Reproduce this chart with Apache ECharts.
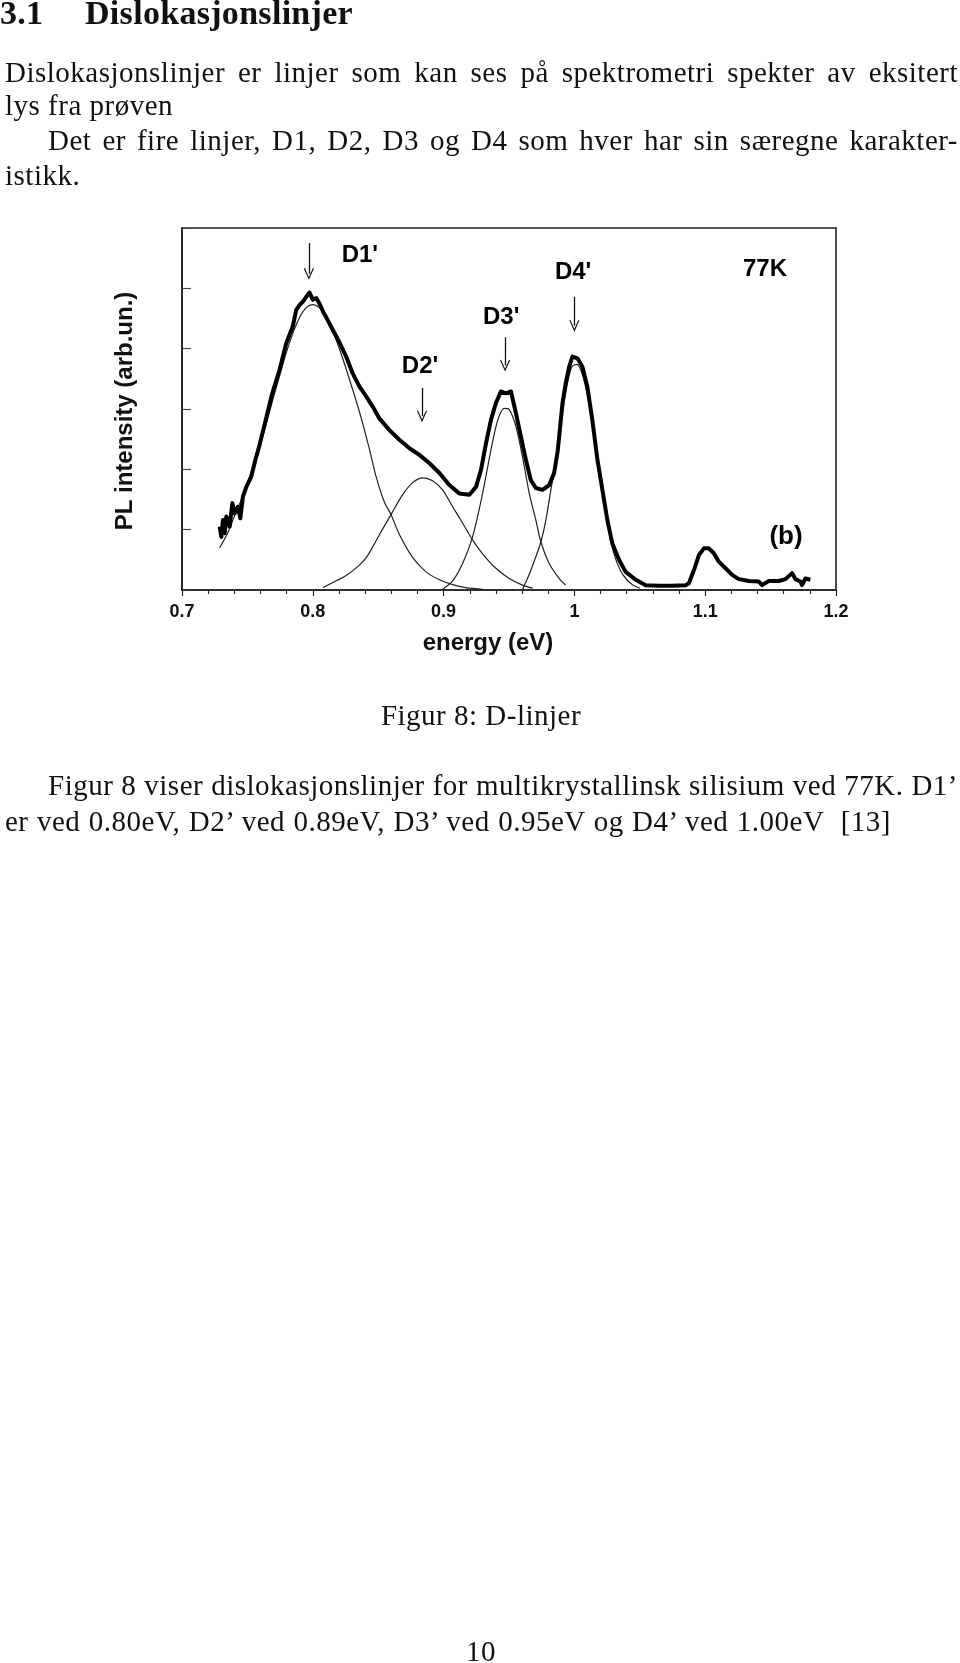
<!DOCTYPE html>
<html><head><meta charset="utf-8">
<script src="https://cdn.jsdelivr.net/npm/echarts@6/dist/echarts.min.js"></script>
<style>
html,body{margin:0;padding:0;background:#fff;}
body{width:960px;height:1663px;position:relative;overflow:hidden;}
#chart{position:absolute;left:0;top:0;width:960px;height:1663px;}
.t{position:absolute;font-family:"Liberation Serif","DejaVu Serif",serif;font-size:29px;line-height:29px;color:#111;white-space:nowrap;letter-spacing:0.5px;}
.j{text-align:justify;text-align-last:justify;white-space:normal;}
.h{font-size:34px;line-height:34px;font-weight:bold;letter-spacing:0.3px;}
</style></head>
<body>
<div id="chart"></div>
<div class="t h" style="left:0;top:-4px;">3.1</div>
<div class="t h" style="left:85px;top:-4px;">Dislokasjonslinjer</div>
<div class="t j" style="left:5px;width:953px;top:58px;">Dislokasjonslinjer er linjer som kan ses på spektrometri spekter av eksitert</div>
<div class="t" style="left:5px;top:91px;">lys fra prøven</div>
<div class="t j" style="left:48px;width:910px;top:126px;">Det er fire linjer, D1, D2, D3 og D4 som hver har sin særegne karakter-</div>
<div class="t" style="left:5px;top:161px;">istikk.</div>
<div class="t" style="left:0;width:962px;text-align:center;top:701px;">Figur 8: D-linjer</div>
<div class="t j" style="left:48px;width:910px;top:771px;">Figur 8 viser dislokasjonslinjer for multikrystallinsk silisium ved 77K. D1’</div>
<div class="t j" style="left:5px;width:886px;top:807px;">er ved 0.80eV, D2’ ved 0.89eV, D3’ ved 0.95eV og D4’ ved 1.00eV &nbsp;[13]</div>
<div class="t" style="left:0;width:962px;text-align:center;top:1637px;">10</div>
<script>
// ---- data (energy in eV, PL intensity in arb. units) ----
const plMeasured = [
 [0.7288,1.05],[0.7301,0.88],[0.7313,1.16],[0.7326,0.94],[0.7339,1.22],[0.7364,1.05],
 [0.7385,1.44],[0.7402,1.27],[0.7427,1.38],[0.7446,1.19],[0.7466,1.55],[0.7492,1.71],
 [0.7530,1.88],[0.7560,2.15],[0.7590,2.38],[0.7640,2.82],[0.7690,3.26],[0.7746,3.65],
 [0.7797,4.09],[0.7847,4.37],[0.7873,4.64],[0.7898,4.72],[0.7924,4.78],[0.7950,4.86],
 [0.7975,4.93],[0.8000,4.81],[0.8026,4.84],[0.8051,4.75],[0.8077,4.62],[0.8100,4.53],
 [0.8153,4.31],[0.8200,4.12],[0.8255,3.87],[0.8305,3.59],[0.8357,3.37],[0.8408,3.21],
 [0.8458,3.04],[0.8510,2.84],[0.8586,2.65],[0.8662,2.49],[0.8739,2.35],[0.8815,2.24],
 [0.8892,2.10],[0.8968,1.94],[0.9044,1.74],[0.9120,1.60],[0.9197,1.58],[0.9248,1.71],
 [0.9286,1.99],[0.9324,2.43],[0.9362,2.82],[0.9400,3.10],[0.9438,3.29],[0.9476,3.26],
 [0.9515,3.29],[0.9553,2.93],[0.9591,2.54],[0.9629,2.16],[0.9667,1.82],[0.9705,1.69],
 [0.9756,1.66],[0.9807,1.74],[0.9845,1.94],[0.9872,2.30],[0.9884,2.55],[0.9909,3.10],
 [0.9934,3.43],[0.9960,3.70],[0.9985,3.87],[1.0023,3.84],[1.0061,3.70],[1.0099,3.37],
 [1.0137,2.82],[1.0176,2.16],[1.0214,1.66],[1.0252,1.16],[1.0290,0.77],[1.0341,0.50],
 [1.0392,0.30],[1.0469,0.17],[1.0545,0.08],[1.0647,0.07],[1.0748,0.07],[1.0850,0.08],
 [1.0875,0.11],[1.0914,0.33],[1.0952,0.58],[1.0990,0.69],[1.1028,0.69],[1.1066,0.61],
 [1.1104,0.47],[1.1155,0.36],[1.1206,0.25],[1.1257,0.18],[1.1333,0.15],[1.1410,0.14],
 [1.1435,0.08],[1.1486,0.15],[1.1563,0.15],[1.1614,0.18],[1.1664,0.28],[1.1690,0.18],
 [1.1728,0.14],[1.1740,0.08],[1.1766,0.19],[1.1804,0.17]
];
const fitD1 = [
 [0.7288,0.70],[0.735,0.95],[0.740,1.22],[0.745,1.48],[0.750,1.78],[0.755,2.08],[0.760,2.42],
 [0.765,2.80],[0.770,3.20],[0.775,3.58],[0.780,3.95],[0.785,4.27],[0.790,4.52],[0.795,4.68],
 [0.800,4.73],[0.805,4.68],[0.810,4.53],[0.815,4.30],[0.820,4.02],[0.826,3.63],[0.8357,2.95],
 [0.843,2.36],[0.8484,1.88],[0.8547,1.46],[0.8598,1.25],[0.8662,0.92],[0.8763,0.54],
 [0.8866,0.30],[0.8968,0.17],[0.9069,0.09],[0.917,0.04],[0.930,0.01]
];
const fitD2 = [
 [0.8077,0.04],[0.815,0.12],[0.8255,0.24],[0.835,0.40],[0.841,0.54],[0.846,0.72],[0.851,0.92],
 [0.8598,1.25],[0.8687,1.58],[0.8763,1.78],[0.884,1.86],[0.8916,1.81],[0.8992,1.66],
 [0.9069,1.38],[0.9145,1.11],[0.9221,0.83],[0.9298,0.60],[0.940,0.36],[0.9502,0.19],
 [0.9603,0.08],[0.968,0.03]
];
const fitD3 = [
 [0.8992,0.01],[0.9069,0.15],[0.9145,0.44],[0.9221,0.88],[0.9298,1.60],[0.9362,2.32],
 [0.9412,2.80],[0.9463,3.01],[0.9502,2.99],[0.9553,2.71],[0.9603,2.21],[0.9655,1.60],
 [0.9705,1.16],[0.9744,0.80],[0.9807,0.44],[0.9884,0.19],[0.9934,0.08]
];
const fitD4 = [
 [0.9603,0.01],[0.9655,0.26],[0.9705,0.55],[0.9744,0.80],[0.9782,1.16],[0.982,1.66],
 [0.986,2.15],[0.990,2.80],[0.994,3.35],[0.998,3.70],[1.002,3.74],[1.006,3.58],[1.010,3.22],
 [1.014,2.70],[1.018,2.08],[1.022,1.52],[1.026,1.02],[1.030,0.62],[1.035,0.33],[1.040,0.17],
 [1.045,0.08],[1.050,0.03]
];
// annotation labels: [energy, intensity, text]
const annotLabels = [
 [0.836,5.55,"D1'"],[0.882,3.70,"D2'"],[0.944,4.52,"D3'"],[0.999,5.27,"D4'"],
 [1.1457,5.32,"77K"],[1.1618,0.88,"(b)"]
];
// arrows: [energy, top intensity, tip intensity]
const arrows = [
 [0.797,5.75,5.24],[0.8835,3.35,2.88],[0.947,4.19,3.72],[1.000,4.86,4.38]
];
const xAxisTitle = "energy (eV)";
const yAxisTitle = "PL intensity (arb.un.)";

const chart = echarts.init(document.getElementById('chart'), null, {renderer:'canvas'});
const fontSans = '"Liberation Sans", Arial, Helvetica, sans-serif';
const thin = (name, data) => ({
  name, type:'line', data, showSymbol:false, symbol:'none', smooth:0.3,
  lineStyle:{color:'#222', width:1.2}, z:2, silent:true
});
chart.setOption({
  animation:false,
  backgroundColor:'transparent',
  grid:{left:182, top:228, width:654, height:362, show:true, borderColor:'#222', borderWidth:1.6, backgroundColor:'transparent'},
  xAxis:{
    type:'value', min:0.7, max:1.2, interval:0.1,
    axisLine:{show:true, lineStyle:{color:'#222', width:1.6}},
    axisTick:{show:true, inside:false, length:6, lineStyle:{color:'#222', width:1.2}},
    minorTick:{show:true, splitNumber:5, length:4, lineStyle:{color:'#222', width:1.1}},
    splitLine:{show:false}, minorSplitLine:{show:false},
    axisLabel:{color:'#111', fontFamily:fontSans, fontWeight:'bold', fontSize:18, margin:13}
  },
  yAxis:{
    type:'value', min:0, max:6, interval:1,
    axisLine:{show:true, lineStyle:{color:'#222', width:1.6}},
    axisTick:{show:true, inside:true, length:9, lineStyle:{color:'#444', width:1.1}},
    axisLabel:{show:false}, splitLine:{show:false}
  },
  graphic:[
    {type:'text', x:488, y:643, silent:true,
     style:{text:xAxisTitle, fill:'#111', font:'bold 24px ' + fontSans, align:'center', verticalAlign:'middle'}},
    {type:'text', x:125, y:411, rotation:Math.PI/2, silent:true,
     style:{text:yAxisTitle, fill:'#111', font:'bold 24px ' + fontSans, align:'center', verticalAlign:'middle'}}
  ],
  series:[
    thin('D1 fit', fitD1), thin('D2 fit', fitD2), thin('D3 fit', fitD3), thin('D4 fit', fitD4),
    {name:'PL', type:'line', data:plMeasured, showSymbol:false, symbol:'none',
     lineStyle:{color:'#000', width:4, join:'round'}, z:3, silent:true},
    {name:'labels', type:'scatter', symbolSize:0, silent:true, z:4,
     itemStyle:{opacity:1, color:'#000'},
     data:annotLabels.map(a => ({value:[a[0], a[1]], name:a[2],
        label:{fontSize: a[2] === '(b)' ? 26 : 24}})),
     label:{show:true, position:'inside', formatter:'{b}', color:'#000', opacity:1,
            fontFamily:fontSans, fontWeight:'bold', fontSize:24},
     markLine:{silent:true, symbol:['none','path://M10,0 L20,16 L18.3,17.2 L10,4.2 L1.7,17.2 L0,16 Z'],
       symbolSize:[10,12], label:{show:false},
       lineStyle:{color:'#111', width:1.3, type:'solid', opacity:1},
       data: arrows.map(a => [{coord:[a[0], a[1]]}, {coord:[a[0], a[2]]}])}
    }
  ]
});
</script>
</body></html>
